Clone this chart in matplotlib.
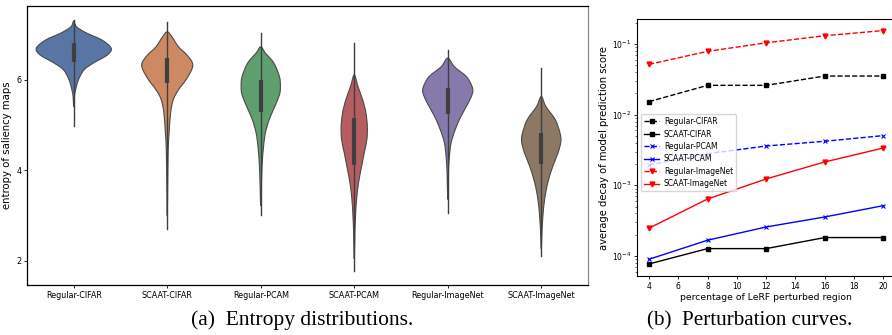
import matplotlib
matplotlib.use("Agg")
import matplotlib.pyplot as plt
from matplotlib.path import Path
from matplotlib.patches import PathPatch
import numpy as np

# ---- (a) violin data ----
groups = ["Regular-CIFAR", "SCAAT-CIFAR", "Regular-PCAM",
          "SCAAT-PCAM", "Regular-ImageNet", "SCAAT-ImageNet"]
colors = ["#5875a4", "#cc8963", "#5f9e6e", "#b55d60", "#857aab", "#8d7866"]

# outline of each violin: entropy levels and half widths (x units)
shape_y = [
    [7.30, 7.17, 7.03, 6.88, 6.70, 6.55, 6.37, 6.22, 6.00, 5.78, 5.63, 5.40],
    [7.06, 6.95, 6.73, 6.55, 6.37, 6.22, 6.00, 5.78, 5.56, 5.27, 4.83, 4.46, 3.73, 3.00],
    [6.73, 6.59, 6.37, 6.07, 5.85, 5.67, 5.41, 5.12, 4.83, 4.53, 4.10, 3.66, 3.22],
    [6.11, 5.85, 5.56, 5.27, 4.97, 4.68, 4.39, 4.10, 3.73, 3.36, 3.00, 2.63, 2.05],
    [6.48, 6.29, 6.07, 5.85, 5.71, 5.49, 5.19, 4.90, 4.61, 4.31, 3.95, 3.36],
    [5.63, 5.41, 5.12, 4.83, 4.64, 4.39, 4.10, 3.73, 3.36, 3.00, 2.63, 2.27],
]
shape_w = [
    [0.0, 0.03, 0.14, 0.30, 0.40, 0.36, 0.21, 0.11, 0.05, 0.02, 0.007, 0.0],
    [0.0, 0.05, 0.12, 0.21, 0.27, 0.26, 0.20, 0.12, 0.064, 0.036, 0.02, 0.01, 0.005, 0.0],
    [0.0, 0.05, 0.14, 0.20, 0.21, 0.20, 0.15, 0.09, 0.05, 0.03, 0.014, 0.007, 0.0],
    [0.0, 0.04, 0.09, 0.125, 0.14, 0.135, 0.107, 0.08, 0.046, 0.025, 0.014, 0.007, 0.0],
    [0.0, 0.07, 0.20, 0.26, 0.265, 0.22, 0.14, 0.08, 0.036, 0.018, 0.007, 0.0],
    [0.0, 0.05, 0.15, 0.20, 0.21, 0.18, 0.125, 0.07, 0.036, 0.018, 0.007, 0.0],
]
whisk_lo = [4.97, 2.70, 3.01, 1.77, 3.07, 2.12]
whisk_hi = [7.33, 7.28, 7.04, 6.82, 6.66, 6.27]
q1 = [6.40, 5.94, 5.30, 4.11, 5.25, 4.15]
q3 = [6.81, 6.48, 6.00, 5.16, 5.82, 4.83]

# ---- (b) perturbation curves ----
pct = [4, 8, 12, 16, 20]
reg_cifar = [0.0153, 0.026, 0.026, 0.0352, 0.0352]
scaat_cifar = [7.7e-5, 1.27e-4, 1.27e-4, 1.82e-4, 1.82e-4]
reg_pcam = [1.94e-3, 2.8e-3, 3.6e-3, 4.2e-3, 5.05e-3]
scaat_pcam = [8.97e-5, 1.67e-4, 2.57e-4, 3.56e-4, 5.15e-4]
reg_imagenet = [0.0515, 0.0787, 0.104, 0.131, 0.155]
scaat_imagenet = [2.47e-4, 6.4e-4, 1.23e-3, 2.14e-3, 3.37e-3]

W, H = 892, 335
fig = plt.figure(figsize=(W / 100, H / 100), dpi=100)


def box(l, t, r, b):
    return [l / W, 1 - b / H, (r - l) / W, (b - t) / H]


def smooth_outline(pts):
    # closed catmull-rom outline through the given points, as bezier path
    n = len(pts)
    verts = [pts[0]]
    codes = [Path.MOVETO]
    for k in range(n):
        p0, p1 = pts[k - 1], pts[k]
        p2, p3 = pts[(k + 1) % n], pts[(k + 2) % n]
        c1 = p1 + (p2 - p0) / 6.0
        c2 = p2 - (p3 - p1) / 6.0
        verts += [c1, c2, p2]
        codes += [Path.CURVE4] * 3
    return Path(verts, codes)


ax1 = fig.add_axes(box(27, 6, 588, 285))
for i in range(len(groups)):
    ys = np.array(shape_y[i])
    ws = np.array(shape_w[i])
    right = np.column_stack([i + ws, ys])
    left = np.column_stack([i - ws[-2:0:-1], ys[-2:0:-1]])
    pts = np.vstack([right, left])
    patch = PathPatch(smooth_outline(pts), facecolor=colors[i],
                      edgecolor="#4a4a4a", linewidth=0.8, zorder=1)
    ax1.add_patch(patch)
    ax1.plot([i, i], [whisk_lo[i], whisk_hi[i]], color="#3f3f3f", lw=1.0, zorder=2)
    ax1.plot([i, i], [q1[i], q3[i]], color="#3f3f3f", lw=3.0,
             solid_capstyle="butt", zorder=3)
ax1.set_xlim(-0.5, 5.5)
ax1.set_ylim(1.47, 7.63)
ax1.set_xticks(range(len(groups)))
ax1.set_xticklabels(groups)
ax1.set_yticks([2, 4, 6])
ax1.tick_params(labelsize=5.8, length=2, width=0.6, pad=2)
ax1.set_ylabel("entropy of saliency maps", fontsize=7.3, labelpad=3)
for s in ax1.spines.values():
    s.set_linewidth(0.9)
ax1.spines["right"].set_color("#888888")

ax2 = fig.add_axes(box(637.3, 19, 895, 276))
ax2.plot(pct, reg_cifar, "k--s", ms=3, lw=1, label="Regular-CIFAR")
ax2.plot(pct, scaat_cifar, "k-s", ms=3, lw=1, label="SCAAT-CIFAR")
ax2.plot(pct, reg_pcam, "b--x", ms=3, mew=0.8, lw=1, label="Regular-PCAM")
ax2.plot(pct, scaat_pcam, "b-x", ms=3, mew=0.8, lw=1, label="SCAAT-PCAM")
ax2.plot(pct, reg_imagenet, "r--v", ms=3.5, lw=1, label="Regular-ImageNet")
ax2.plot(pct, scaat_imagenet, "r-v", ms=3.5, lw=1, label="SCAAT-ImageNet")
ax2.set_yscale("log")
ax2.set_xlim(3.2, 20.8)
ax2.set_ylim(5.2e-5, 0.226)
ax2.set_xticks([4, 6, 8, 10, 12, 14, 16, 18, 20])
ax2.tick_params(labelsize=5.5, length=2.5, width=0.6, pad=2)
ax2.tick_params(which="minor", length=1.5, width=0.4)
ax2.set_xlabel("percentage of LeRF perturbed region", fontsize=6.7, labelpad=1)
ax2.set_ylabel("average decay of model prediction score", fontsize=7.2, labelpad=2)
ax2.legend(fontsize=5.5, loc="upper left", bbox_to_anchor=(0.014, 0.63),
           borderaxespad=0, handlelength=2.0, labelspacing=0.45,
           borderpad=0.4, handletextpad=0.6)

fig.text(302 / W, 1 - 325 / H, "(a)  Entropy distributions.", ha="center",
         va="baseline", family="Liberation Serif", fontsize=15.5)
fig.text(750 / W, 1 - 325 / H, "(b)  Perturbation curves.", ha="center",
         va="baseline", family="Liberation Serif", fontsize=15.2)

fig.savefig("out.png", dpi=100)
